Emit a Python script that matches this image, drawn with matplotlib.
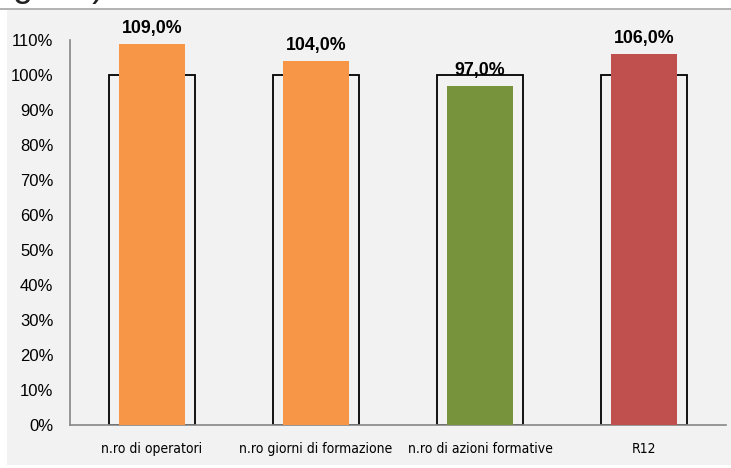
import numpy as np
import matplotlib.pyplot as plt
from matplotlib import font_manager
from matplotlib.patches import Rectangle

categorie = ["n.ro di operatori", "n.ro giorni di formazione", "n.ro di azioni formative", "R12"]
valori = [109.0, 104.0, 97.0, 106.0]
obiettivo = [100, 100, 100, 100]
colori = ["#F79646", "#F79646", "#77933C", "#C0504D"]
tick_y = list(range(0, 111, 10))


def trova_font(nome, peso, narrow):
    for f in font_manager.fontManager.ttflist:
        if f.name.startswith(nome) and f.weight == peso and f.style == "normal":
            if ("Narrow" in f.fname or "Condensed" in f.fname) == narrow:
                return font_manager.FontProperties(fname=f.fname)
    return None


fp_bold = trova_font("Liberation Sans", 700, False) or font_manager.FontProperties(family="Liberation Sans", weight="bold")
fp_reg = trova_font("Liberation Sans", 400, False) or font_manager.FontProperties(family="Liberation Sans")
fp_narrow = (trova_font("Liberation Sans", 400, True) or trova_font("DejaVu Sans", 400, True)
             or trova_font("Roboto", 400, True) or fp_reg)

fig = plt.figure(figsize=(7.31, 4.68), dpi=100)
fig.patch.set_facecolor("white")

# sfondo grigio del riquadro grafico
sfondo = Rectangle((7 / 731, 3 / 468), 1 - 7 / 731, 1 - 3 / 468 - 10 / 468,
                   transform=fig.transFigure, facecolor="#F2F2F2",
                   edgecolor="none", zorder=-5)
fig.add_artist(sfondo)
fig.add_artist(plt.Line2D([0, 1], [1 - 9 / 468, 1 - 9 / 468], transform=fig.transFigure,
                          color="#A6A6A6", linewidth=1.2, zorder=-4))
# titolo tagliato in alto, come nell'originale
fig.text(12 / 731, 1 + 4 / 468, "getto)", fontsize=26, family="Liberation Sans",
         ha="left", va="baseline", color="#222222")

ax = fig.add_axes([70 / 731, 1 - 425 / 468, (726 - 70) / 731, (425 - 40) / 468])
ax.set_zorder(2)
ax.set_facecolor("none")

x = np.arange(len(categorie))
ax.bar(x, obiettivo, width=0.53, facecolor="none", edgecolor="black", linewidth=1.3, zorder=2)
barre = ax.bar(x, valori, width=0.40, color=colori, zorder=3)

for xi, v in zip(x, valori):
    t = ax.annotate(f"{v:.1f}%".replace(".", ","), (xi, v), xytext=(0, 11), textcoords="offset points",
                    ha="center", va="center", zorder=4)
    t.set_fontproperties(fp_bold)
    t.set_fontsize(12.8)

ax.set_xlim(-0.5, len(categorie) - 0.5)
ax.set_ylim(0, 110)
ax.set_yticks(tick_y)
ax.set_yticklabels([f"{t}%" for t in tick_y])
ax.set_xticks(x)
ax.set_xticklabels(categorie)
for lab in ax.get_yticklabels():
    lab.set_fontproperties(fp_reg)
    lab.set_fontsize(12)
for lab in ax.get_xticklabels():
    lab.set_fontproperties(fp_narrow)
    lab.set_fontsize(10)
ax.tick_params(axis="y", length=0, pad=12)
ax.tick_params(axis="x", length=0, pad=12.5)

for s in ["top", "right"]:
    ax.spines[s].set_visible(False)
for s in ["left", "bottom"]:
    ax.spines[s].set_color("#868686")
    ax.spines[s].set_linewidth(1.2)

fig.savefig("out.png", dpi=100)
